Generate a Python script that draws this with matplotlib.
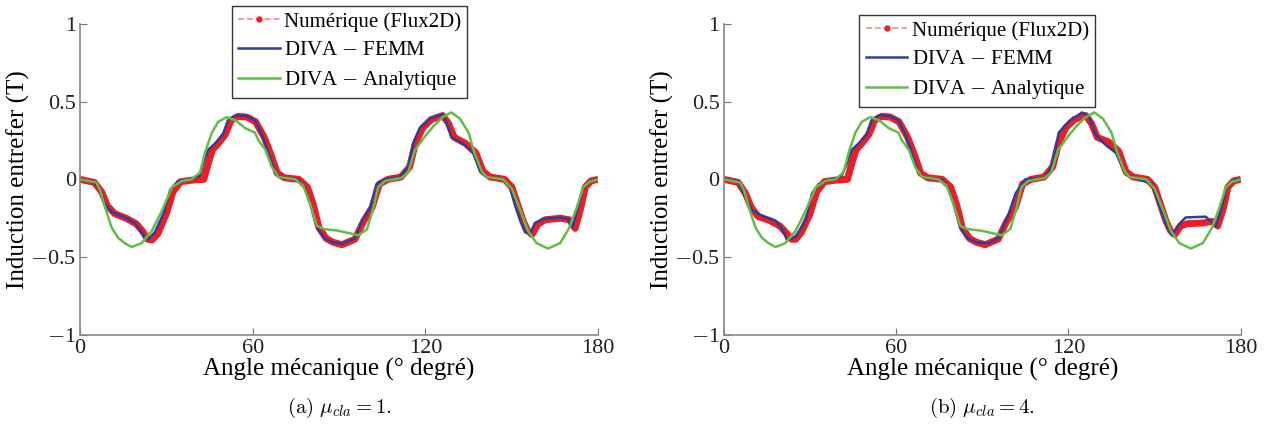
import numpy as np
import matplotlib
matplotlib.use('Agg')
import matplotlib.pyplot as plt
from matplotlib.lines import Line2D

# data (angle in degrees, induction in T)
blue_a_x = [0, 5, 7, 8.7, 11, 15.6, 19, 21.4, 22.6, 23.6, 26, 29, 31.3, 34, 38.8, 41.7, 42.8, 44.5, 46.9, 49.7,
            51.4, 53.9, 57.3, 60.8, 63.6, 66, 67.8, 70, 75.7, 78, 80, 82.3, 85, 88, 91, 95.5, 98, 100.8, 103, 106,
            111, 114, 115.7, 118, 121.6, 126, 127.5, 129, 133, 136.6, 139, 141.4, 147, 149.4, 151, 153, 154.6, 156.4,
            158, 160.9, 166.8, 169.5, 171, 173, 174.8, 177, 180]
blue_a_y = [0, -0.02, -0.07, -0.16, -0.21, -0.245, -0.28, -0.34, -0.38, -0.385, -0.34, -0.22, -0.07, -0.01, 0, 0.025,
            0.1, 0.19, 0.23, 0.29, 0.38, 0.41, 0.41, 0.38, 0.27, 0.14, 0.04, 0.01, 0, -0.05, -0.16, -0.31, -0.38,
            -0.405, -0.415, -0.38, -0.265, -0.18, -0.03, 0, 0.015, 0.08, 0.23, 0.33, 0.39, 0.42, 0.36, 0.27, 0.23,
            0.17, 0.05, 0.015, 0, -0.05, -0.16, -0.27, -0.34, -0.35, -0.28, -0.255, -0.245, -0.255, -0.31, -0.18,
            -0.05, -0.01, 0]

blue_b_x = [0, 5, 7.6, 9.8, 14.5, 18, 20.3, 22, 25, 28.5, 30.7, 33, 37.7, 41, 42.8, 44.5, 46.9, 49.7, 51.4, 53.9,
            57.3, 60.8, 63.6, 66, 67.8, 70, 75.7, 78, 80, 82.3, 85, 88, 92.3, 95.8, 99.2, 101.6, 105, 112, 114.3,
            116.6, 120, 124.7, 127, 129.5, 133, 136.5, 140, 144.5, 149, 151.5, 154, 156, 158.4, 160.8, 167.8, 171.3,
            173.4, 175, 178, 180]
blue_b_y = [0, -0.01, -0.12, -0.2, -0.245, -0.265, -0.32, -0.39, -0.37, -0.26, -0.09, -0.03, 0, 0.02, 0.1, 0.19,
            0.23, 0.29, 0.38, 0.41, 0.41, 0.38, 0.27, 0.14, 0.04, 0.01, 0, -0.05, -0.16, -0.31, -0.38, -0.405, -0.41,
            -0.375, -0.22, -0.09, 0, 0.01, 0.1, 0.30, 0.37, 0.43, 0.41, 0.285, 0.22, 0.17, 0.03, 0, -0.03, -0.16,
            -0.29, -0.36, -0.29, -0.245, -0.24, -0.30, -0.18, -0.05, 0, 0]

red_x = [0, 5, 7.5, 9.5, 12, 16, 19.5, 22, 23.5, 25, 27, 30, 32.3, 35, 39, 43, 44.5, 46, 48, 50.5, 52.5, 55, 58,
         61, 64, 66.5, 68.5, 71, 76, 79, 81, 83, 85.5, 88, 91, 95.5, 98.5, 101.5, 104, 107, 111.5, 114.5, 116.5,
         119, 122, 126, 128, 130, 134, 137.5, 140, 142.5, 147.5, 150, 152, 154, 155.5, 157, 159, 161.5, 167, 170,
         172, 174, 175.5, 177.5, 180]
red_a_y = [0, -0.02, -0.08, -0.17, -0.22, -0.25, -0.285, -0.34, -0.385, -0.39, -0.35, -0.22, -0.08, -0.015, -0.005,
           0.0, 0.1, 0.19, 0.23, 0.29, 0.38, 0.405, 0.40, 0.37, 0.27, 0.15, 0.04, 0.01, 0, -0.05, -0.16, -0.31, -0.38,
           -0.405, -0.42, -0.385, -0.27, -0.18, -0.03, 0, 0.015, 0.08, 0.23, 0.33, 0.385, 0.41, 0.36, 0.27, 0.23,
           0.17, 0.05, 0.015, 0, -0.05, -0.16, -0.27, -0.33, -0.355, -0.29, -0.26, -0.25, -0.26, -0.315, -0.18,
           -0.05, -0.01, 0]
red_b_y = [0, -0.02, -0.09, -0.18, -0.24, -0.265, -0.30, -0.35, -0.385, -0.385, -0.34, -0.22, -0.08, -0.015, -0.005,
           0.0, 0.1, 0.19, 0.23, 0.29, 0.38, 0.405, 0.40, 0.37, 0.27, 0.15, 0.04, 0.01, 0, -0.05, -0.16, -0.31, -0.38,
           -0.405, -0.42, -0.385, -0.27, -0.18, -0.03, 0, 0.015, 0.08, 0.23, 0.33, 0.385, 0.41, 0.36, 0.27, 0.24,
           0.18, 0.05, 0.015, 0, -0.05, -0.16, -0.27, -0.33, -0.355, -0.30, -0.285, -0.28, -0.27, -0.30, -0.18,
           -0.05, -0.01, 0]

# analytical model is the same for both cases
green_x = [0, 5.6, 7, 8.7, 11, 13.2, 15.5, 18, 21.4, 25, 28.5, 32, 35.4, 38.8, 41.7, 43.4, 45.8, 48, 51, 54, 57.3,
           60.8, 62, 64.4, 66.6, 69, 74.8, 77.5, 80, 82.3, 85, 89.6, 94.5, 96.7, 99.7, 102, 103.6, 106, 111.8, 114,
           116.4, 118, 120, 122.7, 126, 129, 132, 135, 137, 139.7, 141.4, 147, 150, 153, 155.6, 158.6, 162.6, 166.8,
           170, 172.6, 174.8, 177, 180]
green_y = [0, -0.02, -0.07, -0.18, -0.31, -0.375, -0.41, -0.435, -0.41, -0.33, -0.2, -0.05, -0.01, 0, 0.045, 0.17,
           0.30, 0.37, 0.40, 0.38, 0.33, 0.30, 0.25, 0.19, 0.08, 0.015, 0, -0.04, -0.16, -0.30, -0.32, -0.33, -0.35,
           -0.36, -0.32, -0.18, -0.05, -0.01, 0.01, 0.045, 0.19, 0.23, 0.28, 0.34, 0.40, 0.43, 0.39, 0.30, 0.17,
           0.045, 0.015, 0, -0.06, -0.20, -0.33, -0.41, -0.445, -0.41, -0.31, -0.18, -0.05, -0.015, 0]

labels = ['Numérique (Flux2D)', 'DIVA $-$ FEMM', 'DIVA $-$ Analytique']
captions = [r'$\mathrm{(a)}\ \mu_{cla} = 1.$', r'$\mathrm{(b)}\ \mu_{cla} = 4.$']
xticks = [0, 60, 120, 180]
yticks = [-1, -0.5, 0, 0.5, 1]

RED = '#ee1c25'
BLUE = '#2b3f9e'
GREEN = '#62bd45'

plt.rcParams['font.family'] = 'Liberation Serif'
plt.rcParams['mathtext.fontset'] = 'cm'
plt.rcParams['axes.unicode_minus'] = True

fig = plt.figure(figsize=(12.7, 4.25), dpi=100)
ax1 = fig.add_axes([0.063, 0.212, 0.408, 0.732])
ax2 = fig.add_axes([0.570, 0.212, 0.407, 0.732])

panels = [(ax1, red_a_y, blue_a_x, blue_a_y, (0.52, 1.058)),
          (ax2, red_b_y, blue_b_x, blue_b_y, (0.49, 1.029))]

for i, (ax, ry, bx, by, anchor) in enumerate(panels):
    ax.plot(red_x, ry, color=RED, lw=5, solid_capstyle='butt', solid_joinstyle='round')
    ax.plot(bx, by, color=BLUE, lw=1.8, solid_joinstyle='round')
    ax.plot(green_x, green_y, color=GREEN, lw=1.8, solid_joinstyle='round')

    ax.set_xlim(0, 180)
    ax.set_ylim(-1, 1)
    ax.set_xticks(xticks)
    ax.set_yticks(yticks)
    ax.set_yticklabels(['$-$1', '$-$0.5', '0', '0.5', '1'])
    ax.tick_params(direction='in', length=5, labelsize=16, colors='#222222', pad=3)
    ax.tick_params(axis='both', color='#777777')
    for s in ['top', 'right']:
        ax.spines[s].set_visible(False)
    for s in ['left', 'bottom']:
        ax.spines[s].set_color('#888888')
        ax.spines[s].set_linewidth(1.2)
    ax.set_xlabel('Angle mécanique (° degré)', fontsize=18, labelpad=0)
    ax.set_ylabel('Induction entrefer (T)', fontsize=18, labelpad=0)

    handles = [Line2D([], [], color='#f58a8a', ls='--', lw=1.2, marker='o', markersize=3.5,
                      markerfacecolor=RED, markeredgecolor=RED),
               Line2D([], [], color=BLUE, lw=1.8),
               Line2D([], [], color=GREEN, lw=1.8)]
    leg = ax.legend(handles, labels, loc='upper center', bbox_to_anchor=anchor, fontsize=15,
                    frameon=True, fancybox=False, edgecolor='black', handlelength=2.0,
                    handletextpad=0.2, borderpad=0.3, labelspacing=0.42, borderaxespad=0)
    leg.get_frame().set_linewidth(1.0)

    pos = ax.get_position()
    fig.text(pos.x0 + pos.width / 2, 0.04, captions[i], ha='center', va='center', fontsize=15)

fig.savefig('out.png', dpi=100)
